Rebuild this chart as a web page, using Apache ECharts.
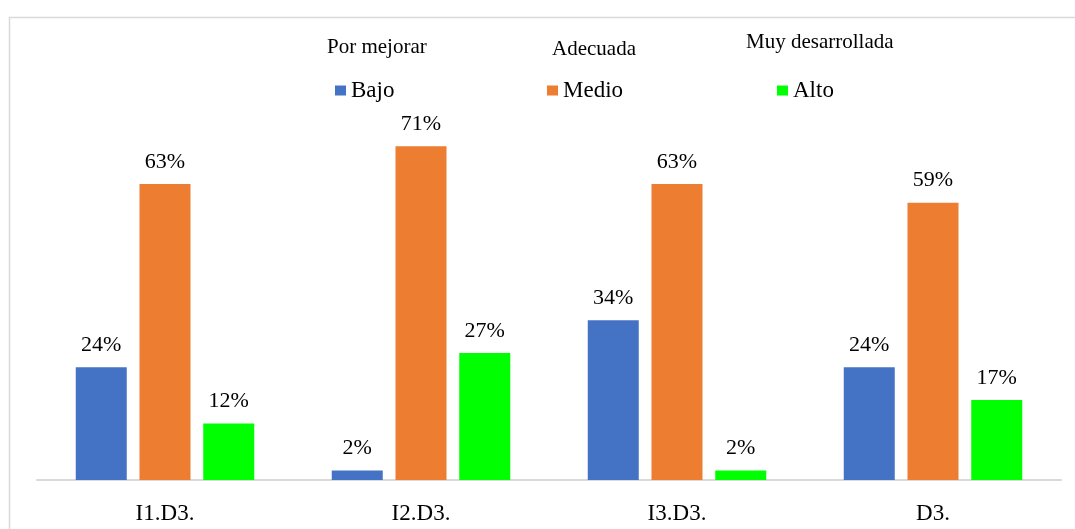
<!DOCTYPE html>
<html>
<head>
<meta charset="utf-8">
<script src="https://cdn.jsdelivr.net/npm/echarts@6/dist/echarts.min.js"></script>
<style>
  html, body { margin: 0; padding: 0; background: #fff; }
  #chart { width: 1075px; height: 529px; }
</style>
</head>
<body>
<div id="chart"></div>
<script>
// Indicators of dimension 3 and the share of each level
const categories = ['I1.D3.', 'I2.D3.', 'I3.D3.', 'D3.'];
const seriesNames = ['Bajo', 'Medio', 'Alto'];
const levelNames = ['Por mejorar', 'Adecuada', 'Muy desarrollada'];
const bajo = [24, 2, 34, 24];
const medio = [63, 71, 63, 59];
const alto = [12, 27, 2, 17];

const colors = ['#4472C4', '#ED7D31', '#00FF00'];
const FONT = '"Liberation Serif", "Times New Roman", serif';

const chart = echarts.init(document.getElementById('chart'));

const values = [bajo, medio, alto];
const series = seriesNames.map((name, i) => ({
  name: name,
  type: 'bar',
  data: values[i],
  barWidth: 51,
  barGap: '25%',
  itemStyle: { color: colors[i] },
  label: {
    show: true,
    position: 'top',
    distance: 11,
    formatter: p => p.value + '%',
    color: '#000',
    fontFamily: FONT,
    fontSize: 22
  }
}));

// One legend per series so each entry sits at its own position
const legendLeft = [330, 542, 772];
const legends = seriesNames.map((name, i) => ({
  data: [name],
  left: legendLeft[i],
  top: 74,
  itemWidth: 11,
  itemHeight: 10,
  icon: 'rect',
  itemGap: 0,
  selectedMode: false,
  textStyle: { fontFamily: FONT, fontSize: 23, color: '#000' }
}));

const levelPos = [[327, 37], [552, 39], [746, 32]];
const graphics = [{
  type: 'rect',
  left: 7, top: 15,
  shape: { width: 1080, height: 530 },
  style: { fill: 'none', stroke: '#D9D9D9', lineWidth: 1.5 },
  silent: true
}].concat(levelNames.map((t, i) => ({
  type: 'text',
  left: levelPos[i][0],
  top: levelPos[i][1],
  style: { text: t, fontFamily: FONT, fontSize: 21, fill: '#000' }
})));

chart.setOption({
  animation: false,
  backgroundColor: '#fff',
  legend: legends,
  graphic: graphics,
  grid: { left: 37, right: 14, top: 104, bottom: 49, containLabel: false },
  xAxis: {
    type: 'category',
    data: categories,
    axisTick: { show: false },
    axisLine: { lineStyle: { color: '#D9D9D9', width: 2 } },
    axisLabel: { fontFamily: FONT, fontSize: 23, color: '#000', margin: 22 }
  },
  yAxis: {
    type: 'value',
    min: 0,
    max: 80,
    show: false,
    splitLine: { show: false }
  },
  series: series
});
</script>
</body>
</html>
